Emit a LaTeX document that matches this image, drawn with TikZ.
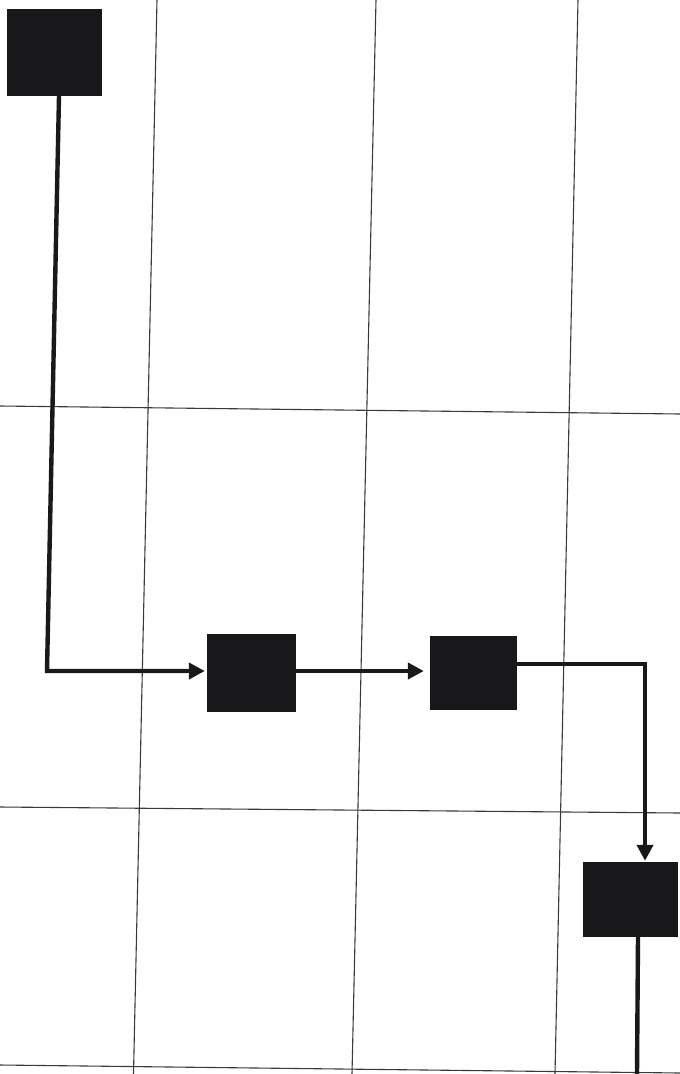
\documentclass[tikz,border=0pt]{standalone}
\usetikzlibrary{arrows.meta}
\definecolor{boxfill}{HTML}{18181A}
\definecolor{gridcol}{HTML}{3A3A3A}
\tikzset{
  blk/.style={rectangle, fill=boxfill, draw=none, inner sep=0pt},
  gridline/.style={draw=gridcol, line width=1.1pt},
  conn/.style={draw=black!90, line width=4.4pt},
  arr/.style={conn, -{Triangle[length=16pt,width=16pt]}}
}
\begin{document}
\begin{tikzpicture}[x=1pt,y=-1pt]
\useasboundingbox[fill=white] (0,0) rectangle (680,1074);
% grid (scanned page, slightly skewed)
\draw[gridline] (157,0) -- (133.5,1074);
\draw[gridline] (376,0) -- (352,1074);
\draw[gridline] (578,0) -- (555,1074);
\draw[gridline] (0,406) -- (680,414);
\draw[gridline] (0,807) -- (680,813);
\draw[gridline] (0,1065) -- (680,1073);
% boxes
\node[blk, minimum width=95pt, minimum height=87pt] (b1) at (54.5,52.5) {};
\node[blk, minimum width=89pt, minimum height=78pt] (b2) at (251.5,673) {};
\node[blk, minimum width=87pt, minimum height=74pt] (b3) at (473.5,673) {};
\node[blk, minimum width=95pt, minimum height=75pt] (b4) at (630.5,899.5) {};
% connectors
\coordinate (c1) at (47,671);
\coordinate (c2) at (645,664);
\coordinate (c3) at (637,1074);
\draw[conn, line join=miter] ([xshift=4.5pt]b1.south) -- (c1) -- ([xshift=-20pt]c1 -| b2.west);
\draw[arr] ([xshift=-40pt]c1 -| b2.west) -- ([xshift=-2pt]c1 -| b2.west);
\draw[arr] ([yshift=2pt]b2.east) -- ([yshift=2pt,xshift=-6pt]b3.west);
\draw[conn, line join=miter] (c2 -| b3.east) -- (c2) -- ([yshift=20pt]c2 |- b4.north);
\draw[arr] ([yshift=40pt]c2 |- b4.north) -- ([yshift=1pt]c2 |- b4.north);
\draw[conn] ([xshift=7.5pt]b4.south) -- (c3);
\end{tikzpicture}
\end{document}
